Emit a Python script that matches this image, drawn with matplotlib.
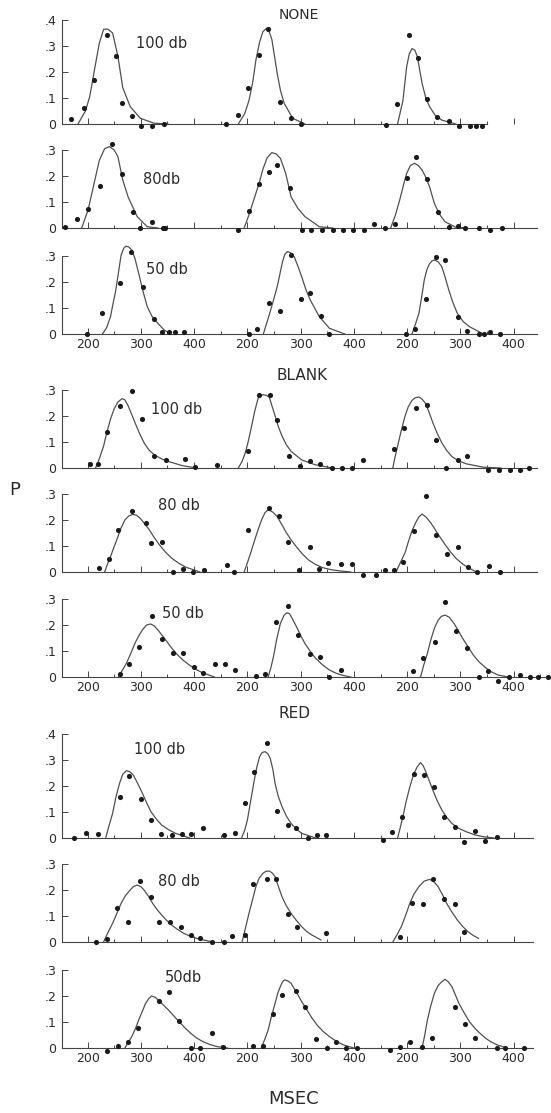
import numpy as np
import matplotlib
matplotlib.use("Agg")
import matplotlib.pyplot as plt

# ==========================================
# DATA  (latency in msec within each panel, P = proportion)
# each row has three panels (left, middle, right subject)
# ==========================================
NONE_100_PTS = [
    ([168, 194, 212, 236, 253, 264, 284, 301, 321, 344],
     [.018, .06, .168, .342, .26, .08, .03, -.008, -.008, 0]),
    ([160, 183, 202, 222, 238, 262, 282, 300],
     [0, .035, .137, .265, .364, .086, .022, 0]),
    ([161, 181, 204, 221, 238, 256, 278, 297, 317, 330, 340],
     [-.005, .076, .342, .253, .097, .028, .012, -.006, -.008, -.008, -.008]),
]
NONE_100_FIT = [
    ([182, 196, 204, 214, 222, 230, 238, 247, 257, 266, 280, 299, 325, 351],
     [0, .05, .105, .22, .31, .364, .365, .35, .26, .14, .067, .022, .003, 0]),
    ([183, 195, 203, 210, 216, 223, 229, 236, 241, 246, 251, 256, 262, 269, 285, 308],
     [0, .04, .09, .16, .246, .315, .355, .368, .355, .325, .26, .195, .13, .08, .022, 0]),
    ([182, 192, 199, 204, 209, 214, 219, 228, 235, 242, 252, 265, 291],
     [0, .09, .22, .27, .29, .285, .26, .156, .1, .067, .035, .015, 0]),
]

NONE_80_PTS = [
    ([158, 180, 201, 224, 245, 265, 285, 299, 321, 341, 346],
     [.005, .033, .072, .16, .323, .208, .063, 0, .024, 0, 0]),
    ([183, 203, 222, 240, 255, 280, 302, 320, 340, 360, 379, 399, 419],
     [-.008, .065, .168, .214, .242, .153, -.008, -.008, -.008, -.008, -.008, -.008, -.008]),
    ([138, 158, 178, 199, 216, 237, 258, 278, 295, 309, 334, 355, 378],
     [.014, 0, .014, .191, .274, .188, .06, .005, .009, 0, 0, -.008, 0]),
]
NONE_80_FIT = [
    ([189, 201, 211, 222, 232, 241, 250, 257, 266, 276, 293, 312, 332],
     [0, .07, .16, .26, .305, .313, .3, .274, .185, .12, .044, .005, 0]),
    ([194, 202, 210, 222, 229, 237, 246, 254, 262, 272, 282, 295, 308, 335, 360],
     [0, .045, .095, .172, .225, .27, .29, .285, .268, .21, .12, .075, .044, .005, 0]),
    ([169, 178, 186, 193, 199, 206, 214, 221, 228, 235, 242, 251, 260, 271, 291, 310],
     [0, .05, .108, .165, .21, .24, .249, .24, .223, .195, .159, .095, .055, .024, .003, 0]),
]

NONE_50_PTS = [
    ([199, 227, 261, 281, 304, 324, 339, 352, 365, 381],
     [0, .082, .197, .317, .182, .056, .008, .008, .008, .008]),
    ([203, 218, 241, 262, 281, 300, 318, 338, 354],
     [0, .018, .12, .09, .304, .133, .156, .069, 0]),
    ([197, 215, 235, 255, 271, 295, 313, 334, 344, 355, 375],
     [0, .018, .133, .297, .285, .067, .01, 0, 0, .008, 0]),
]
NONE_50_FIT = [
    ([228, 236, 243, 253, 259, 263, 268, 272, 277, 283, 289, 296, 304, 312, 321, 332, 344, 357],
     [0, .025, .067, .169, .25, .304, .33, .338, .335, .323, .29, .233, .165, .105, .068, .041, .015, 0]),
    ([230, 242, 249, 256, 266, 270, 275, 281, 288, 295, 302, 310, 318, 335, 354, 383],
     [0, .08, .13, .182, .278, .305, .317, .313, .297, .26, .22, .17, .131, .067, .022, 0]),
    ([209, 215, 222, 227, 232, 237, 242, 246, 251, 258, 265, 271, 278, 286, 294, 305, 317, 343],
     [0, .035, .079, .14, .207, .248, .27, .28, .285, .278, .259, .22, .17, .12, .08, .048, .028, 0]),
]

BLANK_100_PTS = [
    ([204, 219, 237, 261, 283, 303, 324, 347, 383, 401, 443],
     [.016, .014, .139, .238, .295, .19, .047, .029, .034, .003, .01]),
    ([202, 222, 243, 256, 279, 298, 317, 336, 358, 377, 397, 417],
     [.067, .282, .282, .184, .047, .009, .027, .016, 0, 0, 0, .031]),
    ([175, 194, 217, 238, 255, 273, 295, 313, 352, 373, 393, 412, 429],
     [.075, .153, .23, .243, .106, 0, .031, .048, -.008, -.008, -.008, -.008, 0]),
]
BLANK_100_FIT = [
    ([215, 222, 230, 236, 243, 250, 257, 265, 270, 276, 282, 289, 297, 306, 315, 325, 338, 352, 378, 404],
     [0, .035, .084, .135, .188, .228, .254, .267, .262, .24, .21, .175, .135, .097, .07, .051, .036, .025, .009, 0]),
    ([183, 190, 196, 202, 208, 214, 220, 224, 229, 235, 241, 246, 252, 258, 265, 273, 282, 302, 328, 360],
     [0, .025, .058, .105, .162, .22, .267, .278, .282, .28, .273, .24, .201, .16, .123, .09, .064, .031, .012, 0]),
    ([173, 177, 182, 189, 196, 202, 209, 215, 222, 228, 235, 241, 248, 256, 265, 274, 284, 296, 311, 343, 376],
     [0, .04, .084, .145, .2, .235, .26, .27, .273, .265, .247, .215, .175, .135, .097, .068, .044, .028, .016, .003, 0]),
]

BLANK_80_PTS = [
    ([222, 241, 258, 283, 310, 320, 339, 360, 380, 398, 418, 462, 474],
     [.017, .05, .162, .236, .19, .11, .114, 0, .012, 0, .008, .027, 0]),
    ([201, 241, 260, 277, 296, 318, 335, 352, 375, 396, 418, 441],
     [.162, .245, .215, .117, .008, .097, .01, .033, .031, .031, -.01, -.01]),
    ([158, 176, 192, 212, 235, 254, 275, 296, 314, 332, 354, 374],
     [.008, .008, .04, .159, .292, .142, .068, .097, .02, 0, .024, 0]),
]
BLANK_80_FIT = [
    ([232, 237, 243, 250, 257, 263, 270, 277, 285, 292, 299, 307, 316, 325, 335, 346, 358, 371, 385, 411],
     [0, .028, .059, .098, .136, .17, .2, .215, .222, .218, .206, .186, .162, .133, .104, .077, .053, .034, .018, 0]),
    ([194, 200, 206, 213, 220, 227, 233, 237, 241, 248, 256, 264, 272, 282, 292, 303, 315, 328, 341, 357, 374, 394],
     [0, .035, .072, .118, .162, .202, .228, .236, .238, .23, .213, .185, .155, .124, .097, .07, .046, .029, .017, .009, .004, 0]),
    ([179, 187, 196, 202, 209, 216, 222, 228, 236, 245, 253, 261, 271, 281, 292, 304, 317, 330],
     [0, .035, .074, .115, .158, .19, .212, .223, .21, .187, .162, .136, .106, .078, .052, .031, .014, 0]),
]

BLANK_50_PTS = [
    ([261, 278, 296, 321, 340, 360, 380, 399, 416, 439, 458, 477],
     [.01, .049, .117, .235, .145, .094, .094, .04, .017, .049, .049, .027]),
    ([216, 234, 254, 276, 295, 317, 336, 354, 376],
     [.004, .01, .213, .273, .162, .087, .076, 0, .027]),
    ([211, 229, 252, 271, 292, 312, 335, 352, 371, 392, 412, 431, 446, 465],
     [.023, .072, .133, .29, .178, .11, 0, .024, -.015, 0, .008, 0, 0, 0]),
]
BLANK_50_FIT = [
    ([258, 265, 273, 281, 289, 297, 305, 311, 318, 325, 332, 340, 349, 358, 368, 379, 391, 402, 414, 438],
     [0, .025, .053, .09, .13, .162, .187, .2, .204, .197, .181, .16, .136, .111, .087, .065, .046, .031, .018, 0]),
    ([239, 244, 249, 255, 262, 269, 274, 279, 285, 292, 300, 308, 318, 328, 341, 354, 367, 380, 394],
     [0, .035, .078, .145, .206, .238, .247, .244, .222, .194, .16, .129, .099, .072, .047, .027, .014, .006, 0]),
    ([225, 231, 238, 244, 251, 258, 264, 271, 279, 288, 296, 304, 314, 324, 335, 347, 358, 370, 389],
     [0, .045, .091, .14, .187, .218, .233, .238, .23, .206, .178, .149, .117, .085, .058, .036, .02, .008, 0]),
]

RED_100_PTS = [
    ([174, 197, 219, 260, 278, 301, 319, 337, 358, 378, 394, 416],
     [0, .018, .015, .156, .238, .15, .069, .015, .012, .014, .014, .04]),
    ([157, 177, 195, 213, 237, 256, 277, 292, 313, 330, 348],
     [.012, .02, .136, .255, .367, .104, .05, .04, 0, .012, .012]),
    ([155, 171, 190, 212, 232, 250, 270, 289, 307, 328, 347, 368],
     [-.008, .024, .082, .246, .242, .195, .082, .044, -.014, .028, -.01, .005]),
]
RED_100_FIT = [
    ([234, 240, 247, 253, 260, 266, 273, 279, 286, 294, 303, 311, 319, 329, 339, 352, 365, 392],
     [0, .045, .095, .155, .21, .245, .259, .255, .242, .21, .172, .135, .101, .073, .05, .032, .018, 0]),
    ([189, 195, 200, 206, 213, 218, 223, 228, 233, 238, 243, 248, 252, 258, 265, 273, 282, 292, 302, 328],
     [0, .03, .069, .14, .223, .275, .313, .329, .332, .325, .306, .262, .21, .16, .121, .085, .056, .034, .018, 0]),
    ([182, 187, 192, 198, 205, 212, 219, 225, 230, 235, 241, 248, 256, 265, 274, 284, 297, 311, 327, 343, 363],
     [0, .04, .082, .14, .197, .245, .274, .29, .278, .255, .222, .185, .145, .108, .08, .056, .037, .024, .012, .005, 0]),
]

RED_80_PTS = [
    ([215, 237, 255, 275, 298, 319, 334, 354, 375, 394, 411, 434, 457, 472],
     [0, .012, .132, .078, .235, .174, .076, .078, .059, .027, .017, 0, 0, .024]),
    ([195, 211, 236, 253, 277, 293, 348],
     [.027, .222, .242, .241, .108, .059, .033]),
    ([186, 209, 230, 249, 270, 289, 307],
     [.02, .149, .145, .241, .164, .145, .04]),
]
RED_80_FIT = [
    ([230, 238, 247, 255, 263, 271, 280, 286, 293, 300, 306, 314, 322, 330, 339, 348, 358, 369, 381, 394, 408, 435],
     [0, .035, .072, .11, .149, .178, .2, .213, .219, .213, .2, .177, .149, .126, .104, .084, .065, .048, .033, .021, .012, 0]),
    ([190, 196, 203, 210, 216, 222, 229, 235, 241, 247, 252, 258, 265, 273, 282, 292, 302, 311, 321, 338],
     [0, .05, .11, .165, .213, .245, .264, .272, .273, .265, .251, .215, .174, .14, .11, .083, .059, .041, .027, .008]),
    ([173, 181, 189, 197, 205, 213, 222, 232, 242, 250, 258, 266, 274, 284, 294, 304, 314, 324, 334],
     [0, .028, .059, .102, .149, .185, .213, .234, .241, .232, .213, .183, .149, .115, .085, .06, .04, .025, .014]),
]

RED_50_PTS = [
    ([237, 257, 275, 295, 335, 352, 372, 394, 411, 434, 454],
     [-.01, .009, .022, .078, .181, .214, .105, 0, 0, .059, .005]),
    ([211, 229, 248, 265, 292, 308, 329, 349, 367, 385, 406],
     [.009, .009, .131, .204, .22, .159, .033, 0, .022, 0, 0]),
    ([168, 186, 205, 227, 246, 289, 309, 328, 368, 384, 420],
     [-.008, .005, .024, .005, .04, .159, .092, .04, 0, 0, 0]),
]
RED_50_FIT = [
    ([270, 276, 283, 290, 296, 303, 309, 315, 320, 327, 335, 343, 352, 362, 372, 383, 394, 405, 417, 430, 444, 463],
     [0, .02, .044, .075, .108, .142, .172, .19, .2, .195, .181, .164, .146, .123, .101, .077, .056, .038, .024, .013, .005, 0]),
    ([226, 232, 239, 245, 252, 257, 262, 266, 270, 276, 282, 288, 295, 303, 312, 321, 331, 342, 354, 367, 380, 400],
     [0, .03, .069, .12, .172, .21, .237, .255, .262, .258, .249, .228, .204, .175, .146, .116, .088, .064, .044, .026, .012, 0]),
    ([228, 233, 238, 244, 251, 258, 265, 271, 277, 284, 290, 297, 307, 317, 327, 337, 347, 357, 370, 383],
     [0, .05, .108, .16, .21, .24, .255, .264, .255, .236, .207, .172, .135, .101, .076, .056, .038, .024, .011, .003]),
]

GROUPS = ["NONE", "BLANK", "RED"]
INTENSITIES = ["100 db", "80db", "50 db", "100 db", "80 db", "50 db",
               "100 db", "80 db", "50db"]
X_TICK_LABELS = ["200", "300", "400"]

# ==========================================
# LAYOUT (pixels of the 551 x 1113 page)
# ==========================================
W, H = 551, 1113
PANEL_SHIFT = 300          # each subject panel is drawn 300 ms further right
V_MIN, V_MAX = 152, 1070   # x-limits of every row
AX_LEFT, AX_RIGHT = 62, 551
PX_PER_P = 260             # vertical pixels per unit of P

# (points, fit, zero line y, top tick, end of baseline, show x labels, label xy)
ROWS = [
    (NONE_100_PTS, NONE_100_FIT, 124, .4, 950, False, (162, 43)),
    (NONE_80_PTS, NONE_80_FIT, 228, .3, 1044, False, (162, 180)),
    (NONE_50_PTS, NONE_50_FIT, 334, .3, 1044, True, (167, 270)),
    (BLANK_100_PTS, BLANK_100_FIT, 468, .3, 1044, False, (177, 409)),
    (BLANK_80_PTS, BLANK_80_FIT, 572, .3, 1044, False, (179, 505)),
    (BLANK_50_PTS, BLANK_50_FIT, 677, .3, 1070, True, (183, 613)),
    (RED_100_PTS, RED_100_FIT, 838, .4, 1036, False, (160, 749)),
    (RED_80_PTS, RED_80_FIT, 942, .3, 1036, False, (179, 882)),
    (RED_50_PTS, RED_50_FIT, 1048, .3, 1036, True, (183, 978)),
]

INK = "#2b2b2b"
LINE = "#505050"

fig = plt.figure(figsize=(W / 100, H / 100), dpi=100)
fig.patch.set_facecolor("white")


def fig_text(x, y, s, **kw):
    fig.text(x / W, 1 - y / H, s, ha="center", va="center", color=INK, **kw)


for i, (pts, fit, y0, ytop, x_end, show_lab, lab_xy) in enumerate(ROWS):
    ax = fig.add_axes([AX_LEFT / W, (H - y0) / H,
                       (AX_RIGHT - AX_LEFT) / W, ytop * PX_PER_P / H])
    ax.patch.set_visible(False)
    ax.set_xlim(V_MIN, V_MAX)
    ax.set_ylim(0, ytop)

    for k in range(3):
        fx, fy = fit[k]
        ax.plot(np.array(fx) + PANEL_SHIFT * k, fy, "-", color=LINE,
                lw=0.9, clip_on=False, zorder=2)
        px, py = pts[k]
        ax.plot(np.array(px) + PANEL_SHIFT * k, py, "o", color="#1a1a1a",
                ms=3.7, mew=0, clip_on=False, zorder=3)

    for side in ("top", "right"):
        ax.spines[side].set_visible(False)
    ax.spines["left"].set_bounds(0, ytop)
    ax.spines["bottom"].set_bounds(V_MIN, x_end)
    for side in ("left", "bottom"):
        ax.spines[side].set_linewidth(0.8)
        ax.spines[side].set_color("#444444")

    yt = np.round(np.arange(0, ytop + 0.001, 0.1), 1)
    ax.set_yticks(yt)
    ax.set_yticklabels(["0"] + [("%.1f" % v)[1:] for v in yt[1:]])

    major = np.arange(200, 1001, 100)
    minor = np.arange(250, min(x_end, 1050) + 1, 100)
    ax.set_xticks(major)
    ax.set_xticks(minor, minor=True)
    ax.set_xticklabels(X_TICK_LABELS * 3)

    ax.tick_params(axis="both", which="major", direction="in", length=4,
                   width=0.7, color="#444444", labelcolor=INK, labelsize=9)
    ax.tick_params(axis="x", which="minor", direction="in", length=2.5,
                   width=0.7, color="#444444")
    ax.tick_params(axis="y", pad=4, labelsize=9)
    ax.tick_params(axis="x", pad=3, labelbottom=show_lab)

    fig_text(lab_xy[0], lab_xy[1], INTENSITIES[i], fontsize=10.5)

# group titles and axis names
fig_text(299, 15, GROUPS[0], fontsize=10)
fig_text(302, 375, GROUPS[1], fontsize=11)
fig_text(294, 713, GROUPS[2], fontsize=11)
fig_text(15, 490, "P", fontsize=13)
fig_text(294, 1099, "MSEC", fontsize=13)

fig.savefig("out.png", dpi=100, facecolor="white")
